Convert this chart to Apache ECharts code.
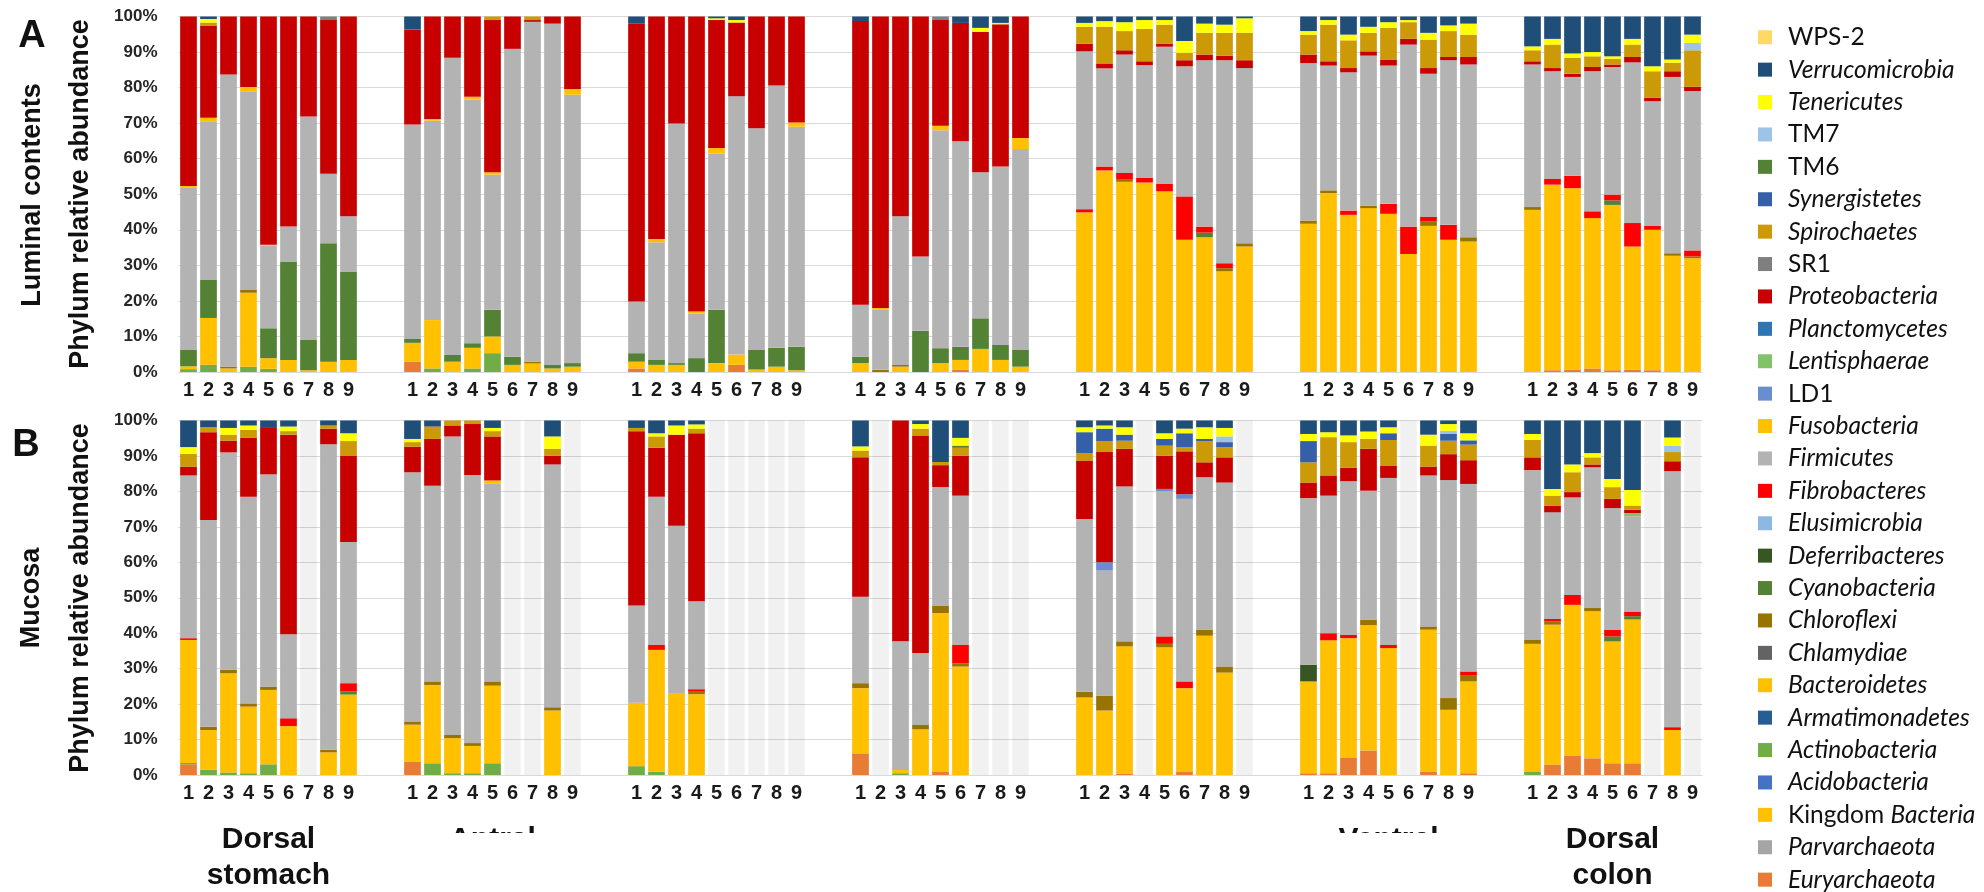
<!DOCTYPE html>
<html><head><meta charset="utf-8">
<script src="https://cdn.jsdelivr.net/npm/echarts@6/dist/echarts.min.js"></script>
<style>html,body{margin:0;padding:0;background:#fff}#c{width:1984px;height:892px}</style>
</head><body><div id="c"></div>
<script>
// sample labels and axis ticks
const sampleLabels = ['1','2','3','4','5','6','7','8','9'];
const yTickStep = 10;
const regionTop = ['Dorsal\nstomach', 'Antral', '', '', '', 'Ventral', 'Dorsal\ncolon'];

// ---------- Row A : Luminal contents (7 regions x 9 animals) ----------
const euryA = [[0,0,0,0,0,0,0,0,0],[2.9,0,0,0,0,0,0,0,0],[1,0,0,0,0,2,0,0,0],[0,0,0,0,0,0.6,0,0,0],[],[],[0,0.5,0.7,1,0.5,0.7,0.5,0,0]];
const actinoA = [[0.8,2,0,1.5,0.9,0,0,0,0],[0,1,0,1,5.3,0,0,0,0],[],[],[],[],[]];
const bacteroA = [[0.8,13.2,1,20.8,3,3.4,0.5,2.9,3.4],[5.3,13.6,2.9,5.8,4.7,2,2.4,1,1.5],[1.9,2,2,0,2.5,2.9,0.7,1.5,0.5],[2.5,0,1.5,0,2.5,2.8,6.5,3.4,1.5],[44.9,56.7,53.5,53.3,50.8,37.2,37.9,28.3,35.3],[41.7,50.3,44.2,46.1,44.5,33.2,41.1,37.2,36.7],[45.6,52.2,51,42.3,46.5,34.6,39.5,32.7,32]];
const chloroA = [[0,0,0.5,0.8,0,0,0,0,0],[0,0,0,0,0,0,0.5,0,0],[],[0,0.6,0.5,0,0,0,0,0,0],[0,0,0.6,0,0,0,0,0.9,0.9],[0.9,0.8,0,0.7,0,0,1.2,0,1.2],[0.8,0,0,0,0,0,0,0.7,0.5]];
const cyanoA = [[4.6,10.7,0,0,8.4,27.7,8.5,33.3,24.9],[1.1,0,1.9,1.3,7.5,2.3,0,1,1],[2.4,1.4,0.5,3.9,15,0,5.5,5.3,6.6],[1.8,0,0,11.6,4.2,3.7,8.6,4.2,4.7],[0,0,0,0,0,0,1.3,0,0],[],[0,0,0,0,1.3,0,0,0,0]];
const fibroA = [[],[],[],[],[0.9,1.1,1.9,1.3,2.1,12.2,1.7,1.4,0],[0,0,1.2,0,2.8,7.7,1.3,4.2,0],[0,1.6,3.5,1.9,1.6,6.6,1.1,0,1.7]];
const firmA = [[45.8,44.6,82.2,55.9,23.2,9.8,62.9,19.6,15.5],[60.3,56.1,83.6,68.5,38,86.6,95.6,96,75.5],[14.5,33.1,67.4,12.5,43.9,72.7,62.4,73.8,61.9],[14.6,16.9,41.8,20.9,61.3,57.8,41.1,50.2,56.5],[44.4,27.6,33.3,31.7,38.6,36.6,46.8,57.1,49.3],[44.3,35.1,38.9,42.2,38.9,51.2,40.3,46.3,48.6],[40.1,30.3,27.8,39.4,35.9,45.2,35.1,49.6,44.8]];
const fusoA = [[0.3,1,0,1.2,0.3,0,0,0,0],[0,0.5,0,0.8,0.7,0,0,0,1.6],[0,0.9,0,0.6,1.6,0,0,0,1.2],[0,0.5,0,0,1.3,0,0,0,3.1],[],[],[]];
const proteoA = [[47.7,26,16.3,19.8,64.2,59.1,28.1,43.2,56.2],[26.7,28.8,11.6,22.6,42.8,9.1,0.5,2,20.4],[78.2,62.6,30.1,83,36,20.7,31.4,19.4,29.8],[79.8,82,56.2,67.5,29.7,33.3,39.5,40,34.2],[2.1,1.4,1.2,1.1,0.9,1.7,1.6,1.3,2.2],[2.4,1.2,1.2,1.2,1.7,1.6,1.6,0.9,2.1],[0.9,0.9,0.9,1.2,0.7,1.5,0.9,1.6,1.2]];
const sr1A = [[0,0,0,0,0,0,0,1,0],[],[],[0,0,0,0,1,0,0,0,0],[],[],[]];
const spiroA = [[0,0.8,0,0,0,0,0,0,0],[0,0,0,0,1,0,1,0,0],[],[],[4.8,10.3,5.4,9.1,5.3,2.1,6.1,6.4,7.7],[5.6,10.3,7.8,5.2,8.9,4.7,8,7.3,6.3],[3.1,6.6,4.5,3,1.6,3.5,7.5,2.4,10.3]];
const tm7A = [[],[],[],[],[],[],[0,0,0,0,0,0,0,0,2.1]];
const teneA = [[0,1,0,0,0,0,0,0,0],[],[0,0,0,0,0.5,0.7,0,0,0],[0,0,0,0,0,0,1.1,0.4,0],[1.1,1.6,2.5,2.5,1.3,3.3,2.6,2.3,4.1],[1,1.3,1.6,1.7,1.6,0.6,1.9,1.6,3.1],[1.1,1.6,1.2,1.2,0.7,1.6,1.4,0.9,2.3]];
const verruA = [[0,0.7,0,0,0,0,0,0,0],[3.7,0,0,0,0,0,0,0,0],[2,0,0,0,0.5,1,0,0,0],[1.3,0,0,0,0,1.8,3.2,1.8,0],[1.8,1.3,1.6,1,1,6.9,2,2.3,0.5],[4.1,1,5.1,2.9,1.6,1,4.6,2.5,2],[8.4,6.3,10.4,10,11.2,6.3,14,12.1,5.1]];

// ---------- Row B : Mucosa (0 everywhere = sample missing) ----------
const euryB = [[3,0,0,0,0,0,0,0,0],[3.8,0,0,0,0,0,0,0,0],[0,0,0,0,0,0,0,0,0],[6.1,0,0,0,1,0,0,0,0],[0,0,0.3,0,0,1,0,0,0],[0.5,0.5,4.8,6.9,0,0,1,0,0.5],[0,2.9,5.5,4.7,3.3,3.3,0,0,0]];
const actinoB = [[0.4,1.5,0.7,0.5,3,0,0,0,0],[0,3.3,0.5,0.5,3.3,0,0,0,0],[2.5,0.9,0,0,0,0,0,0,0],[0,0,0.5,0,0,0,0,0,0],[],[],[1,0,0,0,0,0,0,0,0]];
const bacteroB = [[34.7,11.2,28,18.8,21,13.8,0,6.4,22.7],[10.4,22.1,9.9,7.7,21.9,0,0,18.2,0],[17.9,34.4,22.9,22.8,0,0,0,0,0],[18.4,0,0.9,12.9,44.7,30.6,0,0,0],[21.9,18.2,36,0,36,23.5,39.3,28.9,0],[25.9,37.5,33.8,35.4,35.8,0,40,18.4,25.9],[36,39.5,42.5,41.5,34.4,40.6,0,12.7,0]];
const chloroB = [[0,0.9,1,0.9,0.9,0,0,0.7,0],[0.9,1,0.9,0.8,1.2,0,0,0.9,0],[0,0,0,0.7,0,0,0,0,0],[1.4,0,0,1.2,2.1,0.9,0,0,0],[1.6,4.2,1.4,0,1,0,1.7,1.7,0],[0,0,0,1.5,0,0,0.9,3.3,1.8],[1.1,0.9,0,0.9,0,0,0,0,0]];
const cyanoB = [[0,0,0,0,0,0,0,0,0.9],[],[],[],[],[],[0,0,0,0,1.4,0.9,0,0,0]];
const deferB = [[],[],[],[],[],[4.7,0,0,0,0,0,0,0,0],[]];
const fibroB = [[0.5,0,0,0,0,2.2,0,0,2.3],[],[0,1.4,0,0.7,0,0,0,0,0],[0,0,0,0,0,5.2,0,0,0],[0,0,0,0,2.1,1.9,0,0,0],[0,2,0.9,0,0.9,0,0,0,1],[0,0.8,2.8,0,1.9,1.3,0,0.8,0]];
const firmB = [[45.9,58.3,61.3,58.3,59.9,23.7,0,86.2,39.8],[70.3,55.2,84.2,75.6,55.8,0,0,68.5,0],[27.4,41.8,47.4,24.8,0,0,0,0,0],[24.4,0,36.3,20.3,33.4,42.1,0,0,0],[48.7,35.4,43.7,0,41,51.5,43,51.9,0],[47,38.8,43.4,36.4,47.1,0,42.6,61.5,52.9],[47.9,30,27.5,39.7,34.3,26.9,0,72.2,0]];
const fusoB = [[],[0,0,0,0,0.9,0,0,0,0],[],[],[],[],[]];
const ld1B = [[],[],[],[],[0,2.2,0,0,0.6,1.3,0,0,0],[],[]];
const lentiB = [[],[],[],[],[],[],[0,0,0,0,0,0.9,0,0,0]];
const proteoB = [[2.5,24.8,3.3,16.6,13.1,56.3,0,4.4,24.4],[7.2,13.2,3.1,14.4,12.4,0,0,2.5,0],[49.2,13.8,25.7,47.4,0,0,0,0,0],[39.3,0,62.3,61.4,6.2,11.3,0,0,0],[16.5,31.1,10.6,0,9.4,12.1,4.2,7.1,0],[4.4,5.7,3.8,11.8,3.5,0,2.5,7.3,6.7],[3.6,1.9,1.5,0.8,2.6,0.9,0,2.8,0]];
const spiroB = [[3.6,1.4,1.7,2.3,0,1,0,0.9,4.1],[1.3,3.5,1.4,1,1.5,0,0,1.9,0],[0.9,3.2,0,1.3,0,0,0,0,0],[1.9,0,0,1.9,0.9,2.2,0,0,0],[2.1,3.1,2.3,0,2.8,1.2,6,2.9,0],[5.7,10.8,7.2,2.8,7.2,0,5.9,3.8,4.4],[4.9,2.8,5.6,2,3.3,1.2,0,2.6,0]];
const synerB = [[],[],[],[],[5.9,3.5,1.7,0,1.9,3.9,0.6,1.4,0],[6,0,0,0,1.9,0,0,1.9,1.2],[]];
const tm6B = [[],[],[],[0,0,0,0,0,0.6,0,0,0],[],[],[]];
const tm7B = [[],[],[],[],[0,0,0,0,0,0,0,1.6,0],[0,0,0,0,0,0,0,0.9,0],[0,0,0,0,0,0,0,1.7,0]];
const teneB = [[1.9,0,1.9,1.2,0,1.3,0,0,2.2],[0.9,0,0,0,0.9,0,0,3.5,0],[0,0.9,2.6,1.2,0,0,0,0,0],[1.2,0,0,1.3,0,2.2,0,0,0],[1.4,0.9,2.1,0,1.6,1.3,3.3,2.4,0],[2,1.4,1.9,2.1,1.7,0,3.1,1.9,2],[1.7,1.9,2.2,1.2,2.3,4.4,0,2.4,0]];
const verruB = [[7.5,1.9,2.1,1.4,2.1,1.7,0,1.4,3.6],[5.2,1.7,0,0,2.1,0,0,4.5,0],[2.1,3.6,1.4,1.1,0,0,0,0,0],[7.3,0,0,1,11.7,4.9,0,0,0],[1.9,1.4,1.9,0,3.6,2.3,1.9,2.1,0],[3.8,3.3,4.2,3.1,1.9,0,4,1,3.6],[3.8,19.3,12.4,9.2,16.5,19.6,0,4.8,0]];
const none = [[],[],[],[],[],[],[]];

// phyla in stacking order (bottom -> top); legend lists them top -> bottom
const phyla = [
  {name:'Euryarchaeota', color:'#E97B35', A:euryA, B:euryB},
  {name:'Parvarchaeota', color:'#A5A5A5', A:none, B:none},
  {name:'Kingdom Bacteria', color:'#FFC000', A:none, B:none},
  {name:'Acidobacteria', color:'#4472C4', A:none, B:none},
  {name:'Actinobacteria', color:'#70AD47', A:actinoA, B:actinoB},
  {name:'Armatimonadetes', color:'#255E91', A:none, B:none},
  {name:'Bacteroidetes', color:'#FFC000', A:bacteroA, B:bacteroB},
  {name:'Chlamydiae', color:'#636363', A:none, B:none},
  {name:'Chloroflexi', color:'#997300', A:chloroA, B:chloroB},
  {name:'Cyanobacteria', color:'#548235', A:cyanoA, B:cyanoB},
  {name:'Deferribacteres', color:'#375623', A:none, B:deferB},
  {name:'Elusimicrobia', color:'#8DB8E4', A:none, B:none},
  {name:'Fibrobacteres', color:'#FF0000', A:fibroA, B:fibroB},
  {name:'Firmicutes', color:'#B3B3B3', A:firmA, B:firmB},
  {name:'Fusobacteria', color:'#FFC000', A:fusoA, B:fusoB},
  {name:'LD1', color:'#698ED0', A:none, B:ld1B},
  {name:'Lentisphaerae', color:'#82C36A', A:none, B:lentiB},
  {name:'Planctomycetes', color:'#2E75B6', A:none, B:none},
  {name:'Proteobacteria', color:'#C80000', A:proteoA, B:proteoB},
  {name:'SR1', color:'#7F7F7F', A:sr1A, B:none},
  {name:'Spirochaetes', color:'#CC9A06', A:spiroA, B:spiroB},
  {name:'Synergistetes', color:'#3560A8', A:none, B:synerB},
  {name:'TM6', color:'#548235', A:none, B:tm6B},
  {name:'TM7', color:'#9DC3E6', A:tm7A, B:tm7B},
  {name:'Tenericutes', color:'#FFFF00', A:teneA, B:teneB},
  {name:'Verrucomicrobia', color:'#1F4E79', A:verruA, B:verruB},
  {name:'WPS-2', color:'#FFD966', A:none, B:none}
];
const plainNames = {'WPS-2':1,'TM7':1,'TM6':1,'SR1':1,'LD1':1};

const rows = [{key:'A', top:16.5, height:355.5}, {key:'B', top:420.5, height:354.5}];
const panelLeft0 = 178.5, panelPitch = 224, panelWidth = 180;

const grids = [], xAxes = [], yAxes = [], series = [];
rows.forEach((r, ri) => {
  grids.push({left: panelLeft0, top: r.top, width: panelPitch*6 + panelWidth, height: r.height});
  xAxes.push({gridIndex: ri, type:'value', show:false, min:0, max:1});
  yAxes.push({gridIndex: ri, type:'value', min:0, max:100, interval:yTickStep,
    axisLine:{show:false}, axisTick:{show:false},
    axisLabel:{formatter:'{value}%', fontFamily:'Liberation Sans', fontWeight:'bold', fontSize:17, color:'#262626', margin:21},
    splitLine:{lineStyle:{color:'#d9d9d9', width:1}}});
});
rows.forEach((r, ri) => {
  for (let k = 0; k < 7; k++) {
    const gi = grids.length;
    grids.push({left: panelLeft0 + panelPitch*k, top: r.top, width: panelWidth, height: r.height});
    xAxes.push({gridIndex: gi, type:'category', data: sampleLabels,
      axisLine:{show:false}, axisTick:{show:false},
      axisLabel:{fontFamily:'Liberation Sans', fontWeight:'bold', fontSize:20, color:'#1a1a1a', margin:8, interval:0}});
    yAxes.push({gridIndex: gi, type:'value', min:0, max:100, show:false, splitLine:{show:false}});
    phyla.forEach((p, pi) => {
      const s = {type:'bar', name:p.name, xAxisIndex:gi, yAxisIndex:gi, stack:'s'+gi,
        barWidth:16.7, data:(p[r.key][k] || []), itemStyle:{color:p.color},
        silent:true, animation:false};
      if (ri === 1 && pi === 0) { s.showBackground = true; s.backgroundStyle = {color:'rgba(0,0,0,0.055)'}; }
      series.push(s);
    });
  }
});

function rtext(txt, x, y, size, rot) {
  return {type:'text', x:x, y:y, rotation: rot || 0, z:50,
    style:{text:txt, fill:'#111', font:'bold ' + size + 'px "Liberation Sans"',
      textAlign:'center', textVerticalAlign:'middle', align:'center', verticalAlign:'middle'}};
}
const graphics = [
  rtext('A', 32, 37, 38), rtext('B', 26, 446, 38),
  rtext('Luminal contents', 33, 195, 27, Math.PI/2),
  rtext('Mucosa', 32, 598, 27, Math.PI/2),
  rtext('Phylum relative abundance', 81, 194, 27, Math.PI/2),
  rtext('Phylum relative abundance', 81, 598, 27, Math.PI/2)
];
regionTop.forEach((t, k) => {
  if (!t) return;
  const cx = panelLeft0 + panelPitch*k + panelWidth/2;
  t.split('\n').forEach((line, li) => graphics.push(rtext(line, cx, 840 + li*36, 30)));
  if (t.indexOf('\n') < 0) {
    graphics.push({type:'rect', z:60, shape:{x:cx-80, y:833, width:160, height:60}, style:{fill:'#fff'}});
  }
});

const legendFont = 24.5;
const chart = echarts.init(document.getElementById('c'), null, {renderer:'canvas'});
chart.setOption({
  animation:false,
  backgroundColor:'#fff',
  grid: grids, xAxis: xAxes, yAxis: yAxes, series: series,
  legend: {
    orient:'vertical', left:1758, top:37 - legendFont/2, height:900, itemWidth:14, itemHeight:14,
    itemGap: 31.9 - legendFont,
    icon:'rect', selectedMode:false, padding:0,
    data: phyla.map(p => p.name).reverse(),
    formatter: function(n) {
      if (plainNames[n]) return '{n|' + n + '}';
      if (n === 'Kingdom Bacteria') return '{n|Kingdom }{i|Bacteria}';
      return '{i|' + n + '}';
    },
    textStyle: {fontFamily:'Lato', fontSize:legendFont, color:'#111', padding:[0,0,0,11],
      rich:{n:{fontFamily:'Lato', fontSize:legendFont, color:'#111'},
            i:{fontFamily:'Lato', fontSize:legendFont, color:'#111', fontStyle:'italic'}}}
  },
  graphic: graphics
});
</script></body></html>
